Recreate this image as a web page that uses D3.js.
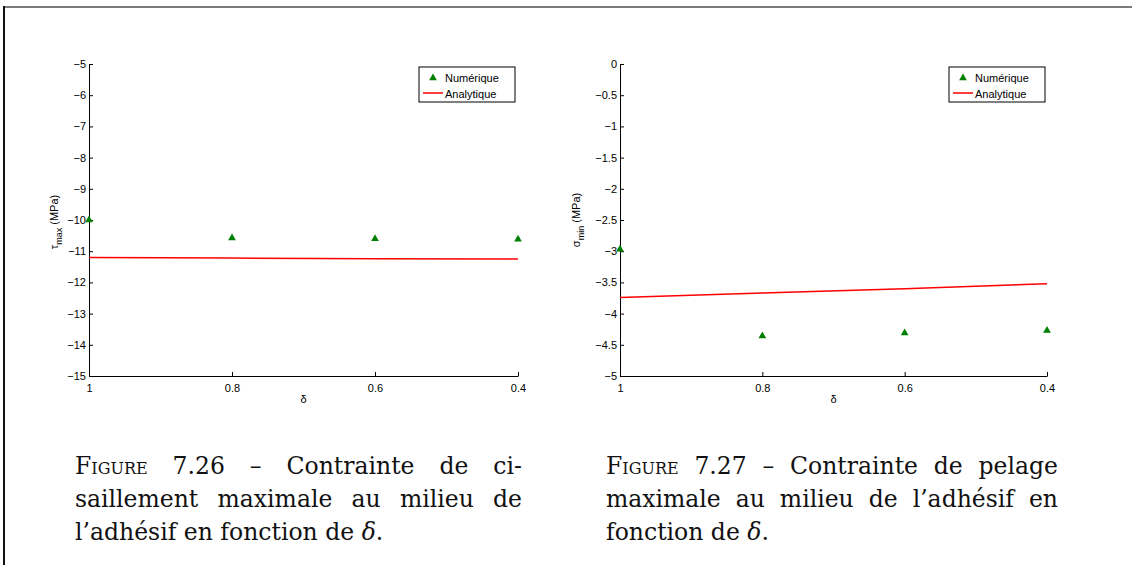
<!DOCTYPE html>
<html>
<head>
<meta charset="utf-8">
<script src="https://cdnjs.cloudflare.com/ajax/libs/d3/7.8.5/d3.min.js"></script>
<style>
  body { margin: 0; background: #fff; }
  svg { display: block; }
  .axis text { font-family: "Liberation Sans", Arial, sans-serif; font-size: 11px; fill: #000; }
  .axis path, .axis line { stroke: #000; }
</style>
</head>
<body>
<div id="chart"></div>
<script>
// data
var deltaVals = [1, 0.8, 0.6, 0.4];
var xTicks = [1, 0.8, 0.6, 0.4];

var tauNum = [-10.0, -10.58, -10.6, -10.62];
var tauAna = [-11.2, -11.22, -11.24, -11.25];
var tauTicks = [-15, -14, -13, -12, -11, -10, -9, -8, -7, -6, -5];

var sigNum = [-2.97, -4.36, -4.31, -4.27];
var sigAna = [-3.74, -3.67, -3.6, -3.52];
var sigTicks = [-5, -4.5, -4, -3.5, -3, -2.5, -2, -1.5, -1, -0.5, 0];

var legendLabels = ["Numérique", "Analytique"];

var W = 1132, H = 565;

var svg = d3.select("#chart").append("svg")
  .attr("width", W)
  .attr("height", H);

// page frame (top and left only)
svg.append("line").attr("x1", 4).attr("x2", W).attr("y1", 7).attr("y2", 7)
  .attr("stroke", "#7a7a7a").attr("stroke-width", 2);
svg.append("line").attr("x1", 4).attr("x2", 4).attr("y1", 6).attr("y2", H)
  .attr("stroke", "#111").attr("stroke-width", 2);

var fmt = d => String(d).replace("-", "\u2212");

function drawPanel(p) {
  var x = d3.scaleLinear().domain([1, 0.4]).range([p.left, p.right]);
  var y = d3.scaleLinear().domain(p.yDomain).range([376, 64]);

  var g = svg.append("g");

  g.append("g")
    .attr("class", "axis")
    .attr("transform", "translate(0,376)")
    .call(d3.axisBottom(x).tickValues(xTicks).tickFormat(fmt).tickSize(-4).tickSizeOuter(0).tickPadding(8));

  g.append("g")
    .attr("class", "axis")
    .attr("transform", `translate(${p.left},0)`)
    .call(d3.axisLeft(y).tickValues(p.yTicks).tickFormat(fmt).tickSize(-4).tickSizeOuter(0).tickPadding(3));

  // analytic line
  var line = d3.line()
    .x((d, i) => x(deltaVals[i]))
    .y(d => y(d));
  g.append("path")
    .datum(p.ana)
    .attr("d", line)
    .attr("fill", "none")
    .attr("stroke", "#ff0000")
    .attr("stroke-width", 1.5);

  // numeric points
  var tri = d3.symbol().type(d3.symbolTriangle).size(26);
  g.selectAll(".pt")
    .data(p.num)
    .enter().append("path")
    .attr("class", "pt")
    .attr("d", tri)
    .attr("transform", (d, i) => `translate(${x(deltaVals[i])},${y(d)})`)
    .attr("fill", "#008000");

  // x label
  g.append("text")
    .attr("x", (p.left + p.right) / 2)
    .attr("y", 403)
    .attr("text-anchor", "middle")
    .style("font-family", "Liberation Sans, Arial, sans-serif")
    .style("font-size", "11px")
    .text("δ");

  // y label
  var yl = g.append("text")
    .attr("transform", `translate(${p.labelX},${p.labelY}) rotate(-90)`)
    .attr("text-anchor", "middle")
    .style("font-family", "Liberation Sans, Arial, sans-serif")
    .style("font-size", "11px");
  yl.append("tspan").text(p.sym);
  yl.append("tspan").attr("dy", 4).style("font-size", "9px").text(p.sub);
  yl.append("tspan").attr("dy", -4).text(" (MPa)");

  // legend
  var lg = g.append("g").attr("transform", `translate(${p.legX},67)`);
  lg.append("rect")
    .attr("width", 96).attr("height", 35)
    .attr("fill", "#fff").attr("stroke", "#000").attr("stroke-width", 1);
  lg.append("path")
    .attr("d", tri)
    .attr("transform", "translate(14,11)")
    .attr("fill", "#008000");
  lg.append("line")
    .attr("x1", 4).attr("x2", 24).attr("y1", 26).attr("y2", 26)
    .attr("stroke", "#ff0000").attr("stroke-width", 1.5);
  lg.selectAll(".lt")
    .data(legendLabels)
    .enter().append("text")
    .attr("x", 26)
    .attr("y", (d, i) => 15 + i * 15.5)
    .style("font-family", "Liberation Sans, Arial, sans-serif")
    .style("font-size", "11px")
    .text(d => d);
}

drawPanel({ left: 89, right: 518, yDomain: [-15, -5], yTicks: tauTicks,
  num: tauNum, ana: tauAna, sym: "τ", sub: "max", labelX: 58, labelY: 222, legX: 419 });
drawPanel({ left: 620, right: 1047, yDomain: [-5, 0], yTicks: sigTicks,
  num: sigNum, ana: sigAna, sym: "σ", sub: "min", labelX: 580, labelY: 220, legX: 949 });

// captions (LaTeX style, justified by stretching the word spaces)
var capFont = "DejaVu Serif, Liberation Serif, serif";
function caption(x0, width, lines) {
  lines.forEach(function (ln, i) {
    var t = svg.append("text")
      .attr("x", x0)
      .attr("y", 474 + i * 33)
      .style("font-family", capFont)
      .style("font-size", "23.5px")
      .attr("fill", "#111");
    var full = "";
    ln.parts.forEach(function (pt) {
      var s = t.append("tspan").text(pt.t);
      full += pt.t;
      if (pt.sc) s.style("font-variant", "small-caps");
      if (pt.it) s.style("font-style", "italic");
    });
    if (ln.justify) {
      var natural = t.node().getComputedTextLength();
      var gaps = full.split(" ").length - 1;
      if (gaps > 0) t.style("word-spacing", ((width - natural) / gaps) + "px");
    }
  });
}

caption(75, 447, [
  { justify: true, parts: [{ t: "Figure", sc: true }, { t: " 7.26 – Contrainte de ci-" }] },
  { justify: true, parts: [{ t: "saillement maximale au milieu de" }] },
  { justify: false, parts: [{ t: "l’adhésif en fonction de " }, { t: "δ", it: true }, { t: "." }] }
]);
caption(606, 452, [
  { justify: true, parts: [{ t: "Figure", sc: true }, { t: " 7.27 – Contrainte de pelage" }] },
  { justify: true, parts: [{ t: "maximale au milieu de l’adhésif en" }] },
  { justify: false, parts: [{ t: "fonction de " }, { t: "δ", it: true }, { t: "." }] }
]);
</script>
</body>
</html>
